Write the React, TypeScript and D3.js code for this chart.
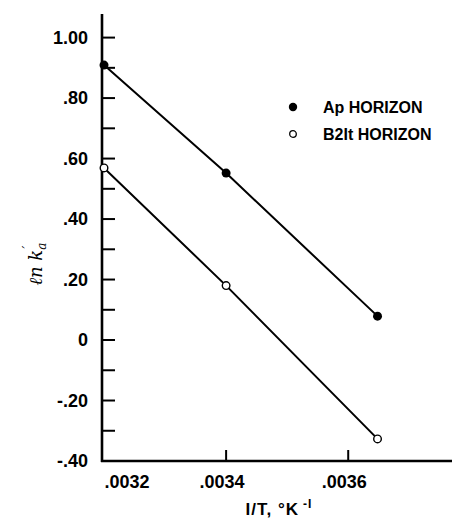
import React, { useEffect, useRef } from "react";
import * as d3 from "d3";

// 1/T values (°K^-1) and ln k'a readings
const invT = [0.0032, 0.0034, 0.003648];
const apValues = [0.909, 0.552, 0.079];
const b2Values = [0.569, 0.18, -0.327];
const yTickValues = [-0.4, -0.2, 0, 0.2, 0.4, 0.6, 0.8, 1.0];
const yTickLabels = ["-.40", "-.20", "0", ".20", ".40", ".60", ".80", "1.00"];
const xTickValues = [0.0032, 0.0034, 0.0036];
const xTickLabels = [".0032", ".0034", ".0036"];
const seriesNames = ["Ap HORIZON", "B2It HORIZON"];

const W = 453;
const H = 519;
const FONT = "'Liberation Sans', Arial, sans-serif";

const App = () => {
  const svgRef = useRef(null);

  useEffect(() => {
    const svg = d3.select(svgRef.current);
    svg.selectAll("*").remove();

    const left = 102;
    const right = 452;
    const bottom = 461;
    const top = 14;

    const x = d3.scaleLinear().domain([0.0031967, 0.00377]).range([left, right]);
    const y = d3.scaleLinear().domain([-0.4, 1.078]).range([bottom, top]);

    // axes lines
    svg.append("line")
      .attr("x1", left).attr("x2", left)
      .attr("y1", top).attr("y2", bottom + 1)
      .attr("stroke", "#000").attr("stroke-width", 2.6);
    svg.append("line")
      .attr("x1", left - 1).attr("x2", right)
      .attr("y1", bottom).attr("y2", bottom)
      .attr("stroke", "#000").attr("stroke-width", 2.4);

    // y ticks every 0.1, pointing inward
    const minor = d3.range(-4, 11).map((i) => i / 10);
    svg.selectAll(".ytick")
      .data(minor)
      .enter()
      .append("line")
      .attr("x1", left).attr("x2", left + 13)
      .attr("y1", (d) => y(d)).attr("y2", (d) => y(d))
      .attr("stroke", "#000").attr("stroke-width", 2);

    svg.selectAll(".ylab")
      .data(yTickValues)
      .enter()
      .append("text")
      .attr("x", 88)
      .attr("y", (d) => y(d) + 6)
      .attr("text-anchor", "end")
      .style("font-family", FONT)
      .style("font-weight", "bold")
      .style("font-size", "18px")
      .text((d, i) => yTickLabels[i]);

    // x ticks
    svg.selectAll(".xtick")
      .data(xTickValues.slice(1))
      .enter()
      .append("line")
      .attr("x1", (d) => x(d)).attr("x2", (d) => x(d))
      .attr("y1", bottom).attr("y2", bottom - 11)
      .attr("stroke", "#000").attr("stroke-width", 2);

    svg.selectAll(".xlab")
      .data(xTickValues)
      .enter()
      .append("text")
      .attr("x", (d, i) => (i === 0 ? 127 : x(d) - 4))
      .attr("y", 488)
      .attr("text-anchor", "middle")
      .style("font-family", FONT)
      .style("font-weight", "bold")
      .style("font-size", "18px")
      .text((d, i) => xTickLabels[i]);

    // x title
    svg.append("text")
      .attr("x", 279).attr("y", 515)
      .attr("text-anchor", "middle")
      .style("font-family", FONT)
      .style("font-weight", "bold")
      .style("font-size", "17px")
      .style("letter-spacing", "1px")
      .html("I/T,  °K<tspan dx='4' dy='-7' font-size='12px'>-I</tspan>");

    // y title
    const yt = svg.append("text")
      .attr("transform", "translate(42,264) rotate(-90)")
      .attr("text-anchor", "middle")
      .attr("fill", "#000")
      .style("font-family", "'DejaVu Serif', serif")
      .style("font-style", "italic")
      .style("font-size", "18px");
    yt.append("tspan").attr("fill", "#000").text("ℓn k");
    yt.append("tspan").attr("fill", "#000").attr("dy", 4).attr("font-size", "12px").text("a");
    yt.append("tspan").attr("fill", "#000").attr("dy", -14).attr("dx", -6).attr("font-size", "12px").text("′");

    const line = d3.line()
      .x((d) => x(d[0]))
      .y((d) => y(d[1]));

    const apPts = invT.map((t, i) => [t, apValues[i]]);
    const b2Pts = invT.map((t, i) => [t, b2Values[i]]);

    svg.append("path").attr("d", line(apPts))
      .attr("fill", "none").attr("stroke", "#000").attr("stroke-width", 2);
    svg.append("path").attr("d", line(b2Pts))
      .attr("fill", "none").attr("stroke", "#000").attr("stroke-width", 2);

    svg.selectAll(".ap")
      .data(apPts)
      .enter()
      .append("circle")
      .attr("cx", (d) => x(d[0])).attr("cy", (d) => y(d[1]))
      .attr("r", 4.5).attr("fill", "#000");

    svg.selectAll(".b2")
      .data(b2Pts)
      .enter()
      .append("circle")
      .attr("cx", (d) => x(d[0])).attr("cy", (d) => y(d[1]))
      .attr("r", 3.8).attr("fill", "#fff")
      .attr("stroke", "#000").attr("stroke-width", 1.4);

    // legend
    const lg = svg.append("g").attr("transform", "translate(293,107)");
    lg.append("circle").attr("cx", 0).attr("cy", 0).attr("r", 4.2).attr("fill", "#000");
    lg.append("circle").attr("cx", 0).attr("cy", 27).attr("r", 3.3)
      .attr("fill", "#fff").attr("stroke", "#000").attr("stroke-width", 1.3);
    lg.selectAll("text")
      .data(seriesNames)
      .enter()
      .append("text")
      .attr("x", 30)
      .attr("y", (d, i) => i * 27 + 6)
      .style("font-family", FONT)
      .style("font-weight", "bold")
      .style("font-size", "16px")
      .text((d) => d);
  }, []);

  return (
    <svg
      ref={svgRef}
      width={W}
      height={H}
      style={{ position: "absolute", left: 0, top: 0, background: "#fff" }}
    ></svg>
  );
};

export default App;
